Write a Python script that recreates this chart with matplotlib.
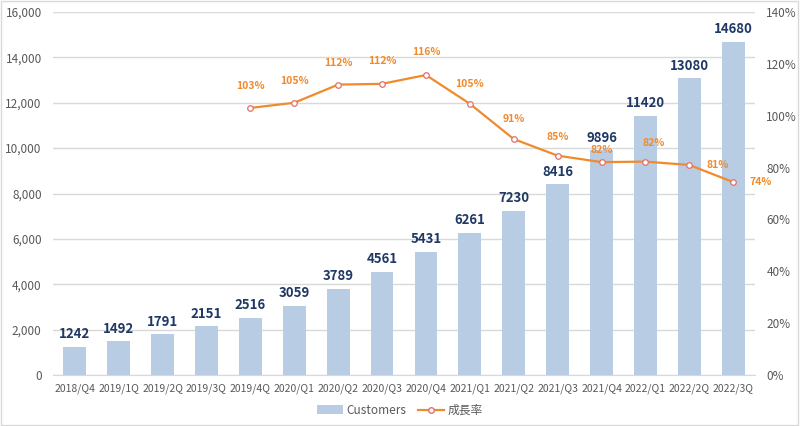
import matplotlib.pyplot as plt
from matplotlib.lines import Line2D
from matplotlib.patches import Patch

plt.rcParams['font.family'] = ['Noto Sans CJK JP', 'DejaVu Sans']

quarters = ["2018/Q4", "2019/1Q", "2019/2Q", "2019/3Q", "2019/4Q", "2020/Q1", "2020/Q2", "2020/Q3",
            "2020/Q4", "2021/Q1", "2021/Q2", "2021/Q3", "2021/Q4", "2022/Q1", "2022/2Q", "2022/3Q"]
customers = [1242, 1492, 1791, 2151, 2516, 3059, 3789, 4561, 5431, 6261, 7230, 8416, 9896, 11420, 13080, 14680]
# growth rate starts at 2019/4Q
growth_idx = list(range(4, 16))
growth = [103.0, 105.0, 112.0, 112.3, 115.7, 104.6, 91.0, 84.6, 82.1, 82.3, 81.0, 74.4]
growth_labels = ["103%", "105%", "112%", "112%", "116%", "105%", "91%", "85%", "82%", "82%", "81%", "74%"]
# label offsets in points (dx, dy)
label_offsets = [(0, 12), (0, 12), (0, 12), (0, 13), (0, 13), (0, 11), (0, 11), (0, 10),
                 (0, 5), (6, 10), (12, 0), (12, 0)]

bar_color = '#B8CCE4'
line_color = '#F08A2C'
label_navy = '#1F3864'
tick_gray = '#595959'

fig = plt.figure(figsize=(8, 4.26), dpi=100)
ax = fig.add_axes([0.066, 0.1197, 0.878, 0.8521])
x = list(range(len(quarters)))
ax.bar(x, customers, width=0.52, color=bar_color, zorder=2)
for xi, v in zip(x, customers):
    ax.annotate(str(v), (xi, v), xytext=(0, 4), textcoords='offset points', ha='center', va='bottom',
                fontsize=9.5, fontweight='bold', color=label_navy, zorder=5)

ax.set_ylim(0, 16000)
ax.set_xlim(-0.5, 15.5)
ax.set_yticks(range(0, 16001, 2000))
ax.set_yticklabels([f"{t:,}" for t in range(0, 16001, 2000)])
ax.set_xticks(x)
ax.set_xticklabels(quarters, fontsize=7.5, color=tick_gray)
ax.tick_params(axis='y', labelsize=8.5, colors=tick_gray, length=0, pad=8)
ax.tick_params(axis='x', length=0, pad=6)
ax.grid(axis='y', color='#D9D9D9', linewidth=1, zorder=0)
ax.set_axisbelow(True)
for s in ax.spines.values():
    s.set_visible(False)
ax.spines['bottom'].set_visible(True)
ax.spines['bottom'].set_color('#D9D9D9')

ax2 = ax.twinx()
ax2.set_ylim(0, 140)
ax2.set_yticks(range(0, 141, 20))
ax2.set_yticklabels([f"{t}%" for t in range(0, 141, 20)])
ax2.tick_params(axis='y', labelsize=8.5, colors=tick_gray, length=0, pad=8)
for s in ax2.spines.values():
    s.set_visible(False)
ax2.plot(growth_idx, growth, color=line_color, linewidth=1.6, marker='o', markersize=4,
         markerfacecolor='white', markeredgecolor='#E0706A', markeredgewidth=0.9, zorder=4)
for xi, v, lab, (dx, dy) in zip(growth_idx, growth, growth_labels, label_offsets):
    ha = 'left' if dx > 8 else 'center'
    va = 'center' if dy == 0 else 'bottom'
    ax2.annotate(lab, (xi, v), xytext=(dx, dy), textcoords='offset points', ha=ha, va=va,
                 fontsize=7.5, fontweight='bold', color=line_color, zorder=6)

handles = [Patch(facecolor=bar_color, edgecolor='none'),
           Line2D([0], [0], color=line_color, linewidth=1.6, marker='o', markersize=4,
                  markerfacecolor='white', markeredgecolor='#E0706A')]
fig.legend(handles, ["Customers", "成長率"], loc='center', bbox_to_anchor=(0.5, 0.037), ncol=2,
           frameon=False, fontsize=8.5, labelcolor=tick_gray, handlelength=2.2, columnspacing=1.0,
           handletextpad=0.3)

fig.patches.append(plt.Rectangle((0.001, 0.002), 0.997, 0.995, transform=fig.transFigure,
                                 fill=False, edgecolor='#D9D9D9', linewidth=1))
fig.savefig("out.png", dpi=100)
